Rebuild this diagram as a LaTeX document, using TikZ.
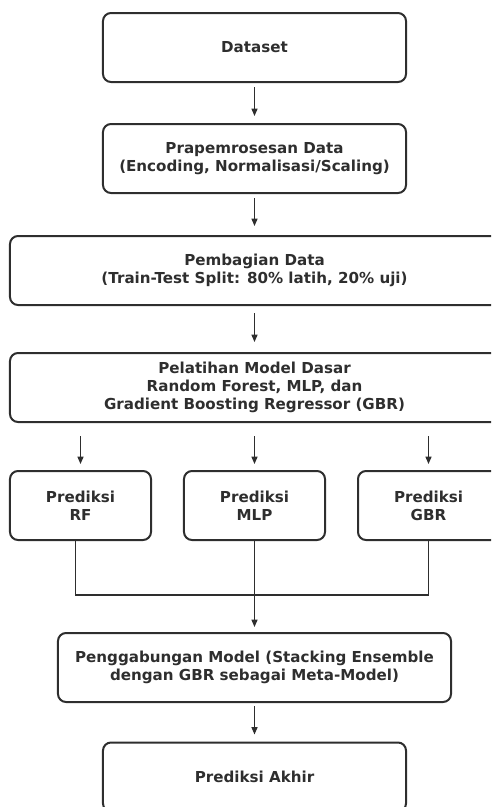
\documentclass[tikz,border=0pt]{standalone}
\usepackage{fontspec}
\setmainfont{DejaVu Sans}
\usetikzlibrary{arrows.meta}
\definecolor{ink}{HTML}{2E2E2E}
\begin{document}
\begin{tikzpicture}[x=0.03cm, y=-0.03cm,
      font=\bfseries\fontsize{12.9}{15.6}\selectfont,
      every node/.style={text=ink},
      box/.style={draw=ink, line width=0.06cm, rounded corners=0.24cm,
        align=center, minimum height=2.07cm, inner sep=0pt},
      mid/.style={box, minimum width=9.09cm},
      wide/.style={box, minimum width=14.67cm},
      small/.style={box, minimum width=4.23cm},
      flow/.style={draw=ink, line width=0.04cm,
        -{Triangle[length=0.22cm,width=0.18cm]}},
      merger/.style={draw=ink, line width=0.05cm},]
    \useasboundingbox (0,0) rectangle (491,807);
    \clip (0,0) rectangle (491,807);
    % main column
    \node[mid] (data) at (254.5,47.5) {Dataset};
    \node[mid] (prep) at (254.5,158.5) {Prapemrosesan Data\\(Encoding, Normalisasi/Scaling)};
    \node[wide] (split) at (254.5,270.5) {Pembagian Data\\(Train-Test Split: 80\% latih, 20\% uji)};
    \node[wide] (train) at (254.5,387.5) {Pelatihan Model Dasar\\Random Forest, MLP, dan\\Gradient Boosting Regressor (GBR)};
    % base predictions
    \node[small] (rf) at (80.5,505.5) {Prediksi\\RF};
    \node[small] (mlp) at (254.5,505.5) {Prediksi\\MLP};
    \node[small] (gbr) at (428.5,505.5) {Prediksi\\GBR};
    \node[box, minimum width=11.79cm] (merge) at (254.5,667.5) {Penggabungan Model (Stacking Ensemble\\dengan GBR sebagai Meta-Model)};
    \node[mid] (final) at (254.5,777) {Prediksi Akhir};
    \coordinate (joinrow) at (254.5,595);
    % connectors
    \draw[flow, shorten <=0.12cm, shorten >=0.21cm] (data) -- (prep);
    \draw[flow, shorten <=0.12cm, shorten >=0.27cm] (prep) -- (split);
    \draw[flow, shorten <=0.21cm, shorten >=0.30cm] (split) -- (train);
    \foreach \p in {rf, mlp, gbr}
      \draw[flow, shorten <=0.39cm, shorten >=0.18cm] (train.south -| \p.north) -- (\p.north);
    \draw[merger] ([xshift=-0.15cm]rf.south) |- (joinrow) -| (gbr.south);
    \draw[flow, shorten >=0.15cm] (mlp.south) -- (merge.north);
    \draw[flow, shorten <=0.09cm, shorten >=0.21cm] (merge) -- (final);
\end{tikzpicture}
\end{document}
